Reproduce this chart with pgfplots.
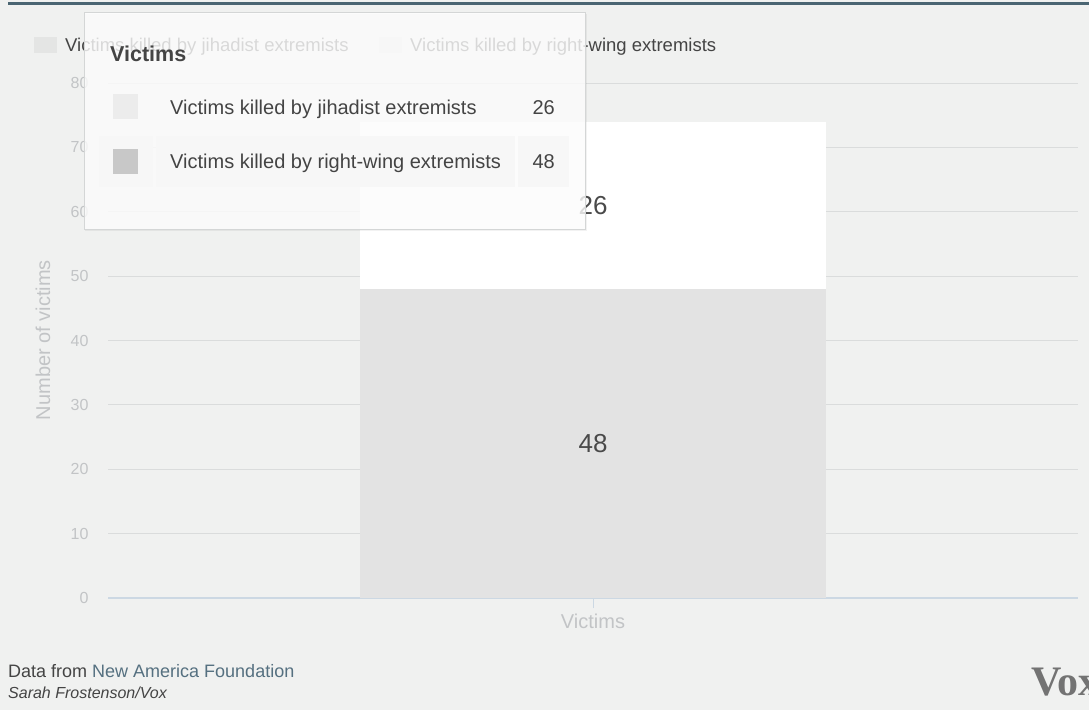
\documentclass[border=0pt]{standalone}
\usepackage{fontspec}
\setmainfont{Liberation Sans}
\newfontfamily\serifvox{Liberation Serif}
\usepackage{pgfplots}
\pgfplotsset{compat=1.18}
\definecolor{bg}{HTML}{F0F1F0}
\definecolor{topline}{HTML}{4A6572}
\definecolor{gridc}{HTML}{DADCDC}
\definecolor{axisc}{HTML}{CCD8E3}
\definecolor{tickc}{HTML}{C2C4C6}
\definecolor{barbot}{HTML}{E3E3E3}
\definecolor{labc}{HTML}{4A4A4A}
\definecolor{legtext}{HTML}{444444}
\definecolor{legsq}{HTML}{E4E5E4}
\definecolor{ttborder}{HTML}{D4D6D6}
\definecolor{rowbg}{HTML}{F7F7F7}
\definecolor{sqone}{HTML}{ECECEC}
\definecolor{sqtwo}{HTML}{C8C8C8}
\definecolor{link}{HTML}{557080}
\definecolor{logoc}{HTML}{737373}
\begin{document}
\begin{tikzpicture}[x=1pt,y=1pt]
\useasboundingbox (0,0) rectangle (1089,710);
\fill[bg] (0,0) rectangle (1089,710);
\draw[topline, line width=3pt] (8,706) -- (1089,706);
% legend (partly covered by the tooltip)
\fill[legsq] (34,657) rectangle (57,673);
\node[anchor=base west, inner sep=0, font=\fontsize{18.5}{22}\selectfont, text=legtext] at (65,658) {Victims killed by jihadist extremists};
\fill[legsq] (379,657) rectangle (402,673);
\node[anchor=base west, inner sep=0, font=\fontsize{18.5}{22}\selectfont, text=legtext] at (410,658) {Victims killed by right-wing extremists};
% y label
\node[rotate=90, font=\fontsize{20}{24}\selectfont, text=tickc] at (43,370) {Number of victims};
\begin{axis}[
  at={(108pt,112pt)}, anchor=south west, scale only axis,
  width=970pt, height=515pt,
  ybar stacked, bar width=0.96,
  xmin=-1, xmax=1, ymin=0, ymax=80, enlargelimits=false,
  xtick={0}, xticklabels={},
  ytick={0,10,...,80},
  ymajorgrids, grid style={draw=gridc, line width=1pt},
  axis x line*=bottom, axis y line*=left,
  x axis line style={draw=axisc, line width=1.5pt, -},
  y axis line style={draw=none},
  tick align=outside, major tick length=10pt,
  xtick style={draw=axisc, line width=1pt},
  ytick style={draw=none},
  yticklabel style={font=\fontsize{16}{19}\selectfont, text=tickc, xshift=-6pt},
  /pgf/number format/assume math mode=true,
  xlabel={Victims},
  xlabel style={at={(axis description cs:0.5,0)}, anchor=north, yshift=-16pt, inner sep=0pt, font=\fontsize{20}{24}\selectfont, text=tickc},
]
\addplot[fill=barbot, draw=none] coordinates {(0,48)};
\addplot[fill=white, draw=none] coordinates {(0,26)};
\coordinate (lab48) at (axis cs:0,24);
\coordinate (lab26) at (axis cs:0,61);
\end{axis}
\node[font=\fontsize{26}{30}\selectfont, text=labc] at (lab48) {48};
\node[font=\fontsize{26}{30}\selectfont, text=labc] at (lab26) {26};
% tooltip
\fill[black, opacity=0.05] (85,479) rectangle (587,696);
\filldraw[fill=white, fill opacity=0.8, draw=ttborder, line width=1pt] (84,480) rectangle (585,697);
\node[anchor=base west, inner sep=0, font=\fontsize{21.5}{25}\selectfont\bfseries, text=legtext] at (110,648) {Victims};
\fill[sqone] (113,591) rectangle (138,616);
\node[anchor=base west, inner sep=0, font=\fontsize{20}{24}\selectfont, text=legtext] at (170,595) {Victims killed by jihadist extremists};
\node[anchor=base east, inner sep=0, font=\fontsize{20}{24}\selectfont, text=legtext] at (555,595) {26};
\fill[rowbg] (99,523) rectangle (153,574);
\fill[rowbg] (156,523) rectangle (515,574);
\fill[rowbg] (518,523) rectangle (569,574);
\fill[sqtwo] (113,536) rectangle (138,561);
\node[anchor=base west, inner sep=0, font=\fontsize{20}{24}\selectfont, text=legtext] at (170,541) {Victims killed by right-wing extremists};
\node[anchor=base east, inner sep=0, font=\fontsize{20}{24}\selectfont, text=legtext] at (555,541) {48};
% footer
\node[anchor=base west, inner sep=0, font=\fontsize{18}{22}\selectfont, text=legtext] at (8,33) {Data from \textcolor{link}{New America Foundation}};
\node[anchor=base west, inner sep=0, font=\fontsize{16}{19}\selectfont\itshape, text=legtext] at (8,12) {Sarah Frostenson/Vox};
\node[anchor=base west, inner sep=0, font=\fontsize{42}{48}\selectfont\serifvox\bfseries, text=logoc] at (1031,15) {Vox};
\end{tikzpicture}
\end{document}
